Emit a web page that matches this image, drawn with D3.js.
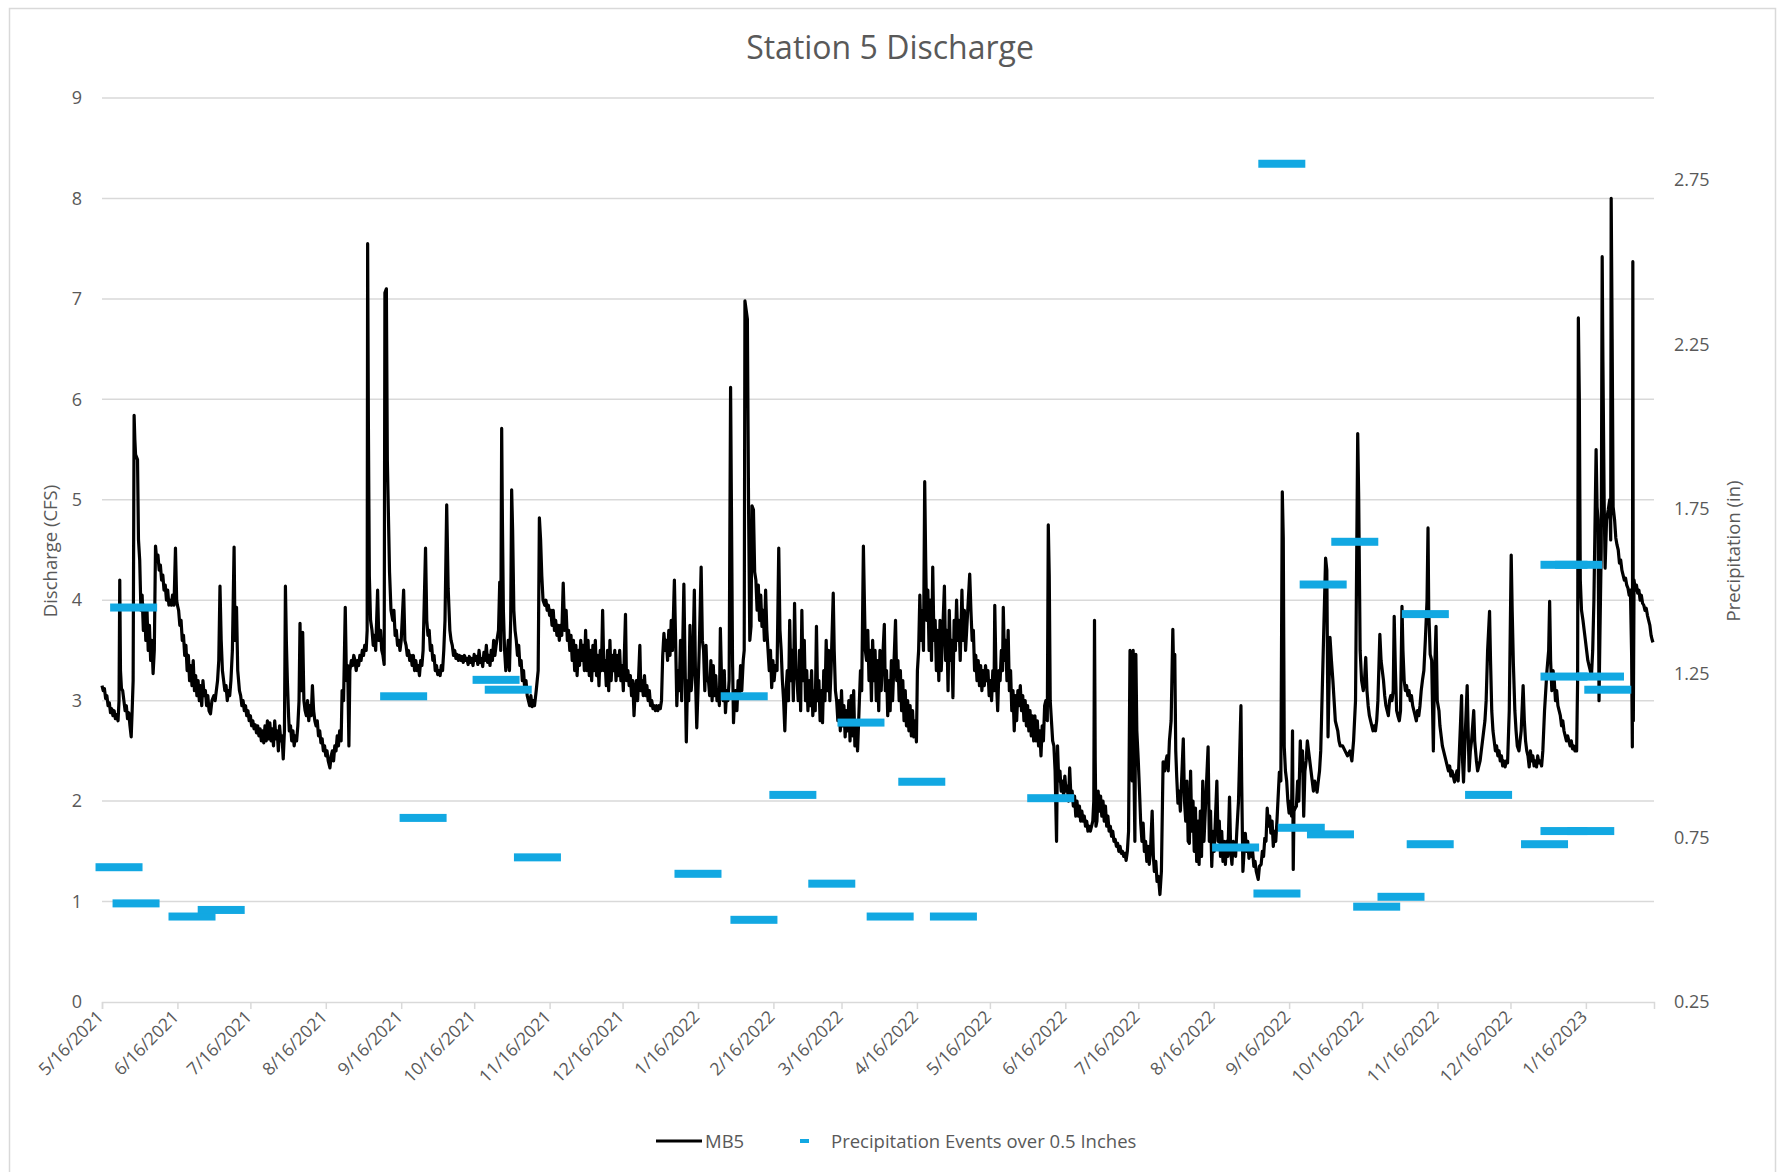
<!DOCTYPE html>
<html>
<head>
<meta charset="utf-8">
<script src="https://cdn.jsdelivr.net/npm/d3@7"></script>
<style>
  html, body { margin: 0; padding: 0; background: #fff; }
  text { font-family: 'Open Sans', sans-serif; fill: #595959; }
</style>
</head>
<body>
<div id="container"></div>
<script>
'use strict';

//Data
const startDay = '2021-05-16';
const endDay = 638; // last reading, days after startDay

//MB5 discharge: [days after 5/16/2021, cfs]
const mb5 = [
  [0,3.15],[0.5,3.1],[1,3.12],[1.5,3.02],[2,3.05],[2.5,2.95],[3,2.98],[3.5,2.88],[4,2.92],[4.5,2.85],[5,2.9],[5.5,2.82],[6,2.86],[6.6,2.8],
  [7,3.0],[7.3,4.2],[7.6,3.3],[8,3.12],[8.5,3.1],[9,3.0],[9.5,2.9],[10,2.95],[10.5,2.82],[11,2.88],[11.5,2.75],[12,2.64],[12.4,2.9],
  [12.8,3.2],[13.2,5.84],[13.5,5.6],[13.8,5.45],[14.6,5.4],[15,4.6],[15.5,4.4],[16,3.9],[16.5,4.05],[17,3.7],[17.5,3.95],[18,3.6],[18.5,3.9],[19,3.5],[19.5,3.75],[20,3.4],[20.5,3.6],[21,3.27],[21.5,3.5],
  [22,4.54],[22.5,4.4],[23,4.45],[23.5,4.3],[24,4.35],[24.5,4.2],[25,4.25],[25.5,4.1],[26,4.15],[26.5,4.0],[27,4.1],[27.5,3.95],[28,4.0],[28.5,3.95],[29,4.05],[29.6,3.95],[30.2,4.52],[30.7,4.0],[31,3.95],[31.5,3.9],[32,3.75],[32.5,3.8],[33,3.6],[33.5,3.65],[34,3.45],[34.5,3.55],[35,3.3],[35.5,3.45],[36,3.2],[36.5,3.35],[37,3.15],[37.5,3.4],[38,3.1],[38.5,3.25],[39,3.05],[39.5,3.2],[40,3.0],[40.5,3.15],[41,2.95],[41.5,3.2],[42,3.05],[42.5,3.1],[43,2.95],[43.5,3.05],[44,2.9],[44.6,2.87],[45.2,3.0],[46,3.05],[46.5,3.0],[47,3.1],[47.5,3.2],[48,3.4],[48.5,4.14],[49,3.6],[49.5,3.3],[50,3.2],[50.5,3.1],[51,3.15],[51.5,3.0],[52,3.1],[52.5,3.05],[53,3.2],[53.6,3.5],[54.3,4.53],[54.7,3.6],[55.3,3.93],[55.8,3.3],[56.5,3.1],[57,3.05],[57.5,2.95],[58,3.0],[58.5,2.9],[59,2.95],[59.5,2.85],[60,2.9],[60.5,2.8],[61,2.85],[61.5,2.75],[62,2.8],[62.5,2.72],[63,2.76],[63.5,2.68],[64,2.75],[64.5,2.65],[65,2.72],[65.5,2.6],[66,2.7],[66.5,2.58],[67,2.75],[67.5,2.6],[68,2.8],[68.5,2.62],[69,2.78],[69.5,2.6],[70,2.72],[70.5,2.55],[71,2.8],[71.5,2.62],[72,2.7],[72.5,2.5],[73,2.75],[73.5,2.6],[74,2.65],[74.5,2.42],[75,2.7],
  [75.4,4.14],[75.8,3.58],[76.2,3.2],[76.7,2.85],[77,2.7],[77.5,2.75],[78,2.6],[78.5,2.7],[79,2.55],[79.5,2.65],[80,2.6],[80.5,2.75],[81,3.0],[81.4,3.77],[81.8,3.1],[82.5,3.68],[83,3.0],[83.5,2.9],[84,2.85],[84.5,3.0],[85,2.8],[85.5,2.95],[86,2.85],[86.5,3.15],[87,2.9],[87.5,2.8],[88,2.75],[88.5,2.8],[89,2.65],[89.5,2.7],[90,2.58],[90.5,2.62],[91,2.5],[91.5,2.55],[92,2.45],[92.5,2.5],[93,2.4],[93.7,2.33],[94.2,2.45],[94.7,2.5],[95.2,2.4],[95.7,2.55],[96.2,2.5],[96.7,2.65],[97.2,2.55],[97.7,2.7],[98.3,2.6],[98.7,3.1],[99.3,3.0],[100,3.93],[100.5,3.2],[101,3.35],[101.5,2.55],[101.9,3.3],[102.5,3.4],[103,3.35],[103.5,3.45],[104,3.4],
  [104.5,3.3],[105,3.4],[105.5,3.35],[106,3.45],[106.5,3.4],[107,3.5],[107.5,3.45],[108,3.55],[108.6,3.5],
  [109,3.7],[109.2,7.55],[109.5,5.79],[109.9,4.24],[110.4,3.8],[111,3.7],[111.5,3.55],[112,3.65],[112.5,3.5],[113.3,4.1],[113.8,3.6],[114.5,3.7],[115,3.5],[115.5,3.45],[116,3.36],
  [116.3,7.06],[116.9,7.1],[117.3,5.39],[118.2,4.28],[118.8,3.9],[119.5,3.8],[120,3.9],[120.5,3.65],[121,3.7],[121.5,3.55],[122,3.6],[122.5,3.5],[123,3.6],[124,4.1],[124.5,3.6],[125,3.55],[125.5,3.45],[126,3.5],[126.5,3.4],[127,3.45],[127.5,3.35],[128,3.45],[128.5,3.3],[129,3.4],[129.5,3.3],[130,3.35],[130.5,3.25],[131,3.4],[131.5,3.35],[132,3.5],[133,4.52],[133.5,3.8],[134,3.65],[134.5,3.7],[135,3.5],[135.5,3.55],[136,3.4],[136.5,3.45],[137,3.3],[137.5,3.35],[138,3.26],[138.5,3.3],[139,3.25],[139.5,3.35],[140,3.3],[140.5,3.5],
  [141,3.8],[141.7,4.95],[142.3,4.12],[143,3.7],[143.5,3.6],[144,3.55],[144.5,3.45],[145,3.5],[145.5,3.42],[146,3.46],[146.5,3.4],[147,3.45],[147.5,3.4],[148,3.44],[148.5,3.38],[149,3.45],[149.5,3.4],[150,3.42],[150.5,3.36],[151,3.44],[151.5,3.38],[152,3.42],[152.5,3.35],[153,3.46],[153.5,3.4],[154,3.44],[154.5,3.36],[155,3.5],[155.5,3.38],[156,3.42],[156.5,3.34],[157,3.48],[157.5,3.4],[158,3.55],[158.5,3.38],[159,3.45],[159.5,3.35],[160,3.5],[160.5,3.4],[161,3.6],[161.5,3.45],[162,3.55],
  [163,3.7],[163.5,4.18],[163.9,3.5],[164.3,5.71],[164.6,4.8],[165,3.9],[165.5,3.5],[166,3.3],[166.6,3.45],[167,3.6],[167.5,3.3],
  [168,3.8],[168.4,5.1],[168.8,4.7],[169.3,3.9],[169.8,3.7],[170.3,3.6],[170.8,3.45],[171.3,3.55],[171.8,3.35],[172.3,3.4],[172.8,3.2],[173.3,3.3],[173.8,3.1],[174.3,3.2],[174.8,3.05],[175.3,3.0],[175.8,2.95],[176.3,3.05],[176.8,2.94],[177.3,3.0],[177.8,2.95],[178.5,3.1],
  [179.3,3.3],[179.8,4.82],[180.3,4.6],[180.8,4.24],[181.3,4.0],[182,3.95],[182.5,4.0],[183,3.9],[183.5,3.95],[184,3.85],[184.5,3.9],[185,3.75],[185.5,3.9],[186,3.7],[186.5,3.8],[187,3.65],[187.5,3.75],[188,3.6],[188.5,3.75],[189,3.65],[189.6,4.17],[190.2,3.7],[190.8,3.9],[191.3,3.6],[191.8,3.7],[192.3,3.5],[192.8,3.65],[193.3,3.4],[193.8,3.6],[194.3,3.3],[194.8,3.55],[195.3,3.25],[195.8,3.5],[196.3,3.35],[196.8,3.6],[197.3,3.4],[197.8,3.55],[198.3,3.3],[198.8,3.7],[199.3,3.3],[199.8,3.6],[200.3,3.25],[200.8,3.5],[201.3,3.2],[201.8,3.55],[202.3,3.3],[202.8,3.6],[203.3,3.25],[203.8,3.45],[204.3,3.15],[204.8,3.5],[205.3,3.3],[205.8,3.9],[206.3,3.3],[206.8,3.4],[207.3,3.15],[207.8,3.5],[208.3,3.1],[208.8,3.6],[209.3,3.2],[209.8,3.45],[210.3,3.3],[210.8,3.5],
  [211.3,3.2],[211.8,3.45],[212.3,3.25],[212.8,3.5],[213.3,3.2],[213.8,3.35],[214.3,3.1],[215.2,3.86],[215.6,3.2],[216.2,3.3],[216.7,3.15],[217.2,3.25],[217.7,3.05],[218.2,3.2],[218.7,2.85],[219.2,3.1],[219.7,3.2],[220.2,3.0],[221.1,3.55],[221.5,3.1],[222,3.2],[222.5,3.05],[223,3.25],[223.5,3.05],[224,3.15],[224.5,3.0],[225,3.1],[225.5,2.95],[226,3.0],[226.5,2.92],[227,2.95],[227.5,2.9],[228,2.95],[228.5,2.9],[229,2.95],[229.5,2.92],[230,3.0],[230.5,3.45],[231,3.67],[231.5,3.5],[232,3.6],[232.5,3.4],[233,3.7],[233.5,3.45],[234,3.8],[234.5,3.5],[235.3,4.2],[235.8,3.6],[236.3,2.95],[236.8,3.3],[237.3,3.1],[237.8,3.6],[238.3,3.0],[239.2,4.16],[239.6,3.5],[240.2,2.59],[240.7,3.2],[241.2,3.0],[241.7,3.75],[242.2,3.1],[242.8,3.3],[243.5,4.1],[244,3.2],[244.5,2.73],[245,3.1],[245.5,3.5],[246.3,4.33],[246.8,3.6],[247.3,3.5],[247.8,3.1],[248.3,3.55],[248.8,3.2],[249.3,3.2],[249.8,3.05],[250.3,3.4],[250.8,3.0],[251.3,3.35],[251.8,3.05],[252.3,3.25],[252.8,3.0],[253.3,3.1],[253.8,2.95],[254.2,3.72],[254.8,3.1],[255.3,3.0],[255.8,3.3],[256.3,2.88],[256.8,3.1],[257.3,3.0],[257.8,3.2],
  [258.4,6.12],[258.7,5.1],[259.2,3.4],[259.6,2.78],[260,3.0],[260.5,3.1],[261,2.9],[261.5,3.2],[262,3.05],[262.5,3.35],[263,3.1],[263.6,3.4],
  [264,3.5],[264.3,6.98],[265.3,6.8],[265.8,4.9],[266.3,3.6],[266.8,3.74],[267.2,4.94],[267.8,4.9],[268.3,4.28],[268.8,4.2],[269.3,3.9],[269.8,4.15],[270.3,3.8],[270.8,4.05],[271.3,3.74],[271.8,3.9],[272.3,3.6],[272.8,4.1],[273.3,3.7],[273.8,3.5],[274.3,3.3],[274.8,3.5],[275.3,3.13],[275.8,3.4],[276.3,3.2],[276.8,3.35],[277.5,3.3],[278.2,4.52],[278.7,3.7],[279.2,3.5],[279.7,3.2],[280.2,3.0],[280.7,2.7],[281.2,3.1],[281.7,3.3],[282.2,3.0],[282.7,3.8],[283.2,3.2],[283.7,3.5],[284.2,3.0],[284.7,3.97],[285.2,3.3],[285.7,3.2],[286.2,3.0],[286.7,3.5],[287.2,2.9],[287.7,3.9],[288.2,3.2],[288.7,3.6],[289.2,3.0],[289.7,3.3],[290.2,2.9],[290.7,3.2],[291.2,2.95],[291.7,3.3],[292.2,2.85],[292.7,3.1],[293.2,2.9],[293.7,3.74],[294.2,3.0],[294.7,3.2],[295.2,2.8],[295.7,3.1],[296.2,2.78],[296.7,3.3],[297.2,3.0],[297.7,3.6],[298.2,3.1],[298.7,3.5],[299.2,3.0],[299.7,3.3],[300.6,4.07],[301,3.5],[301.5,3.1],[302,3.0],[302.5,2.8],[303,3.0],[303.5,2.7],[304,3.1],[304.5,2.75],[305,2.95],[305.5,2.64],[306,2.9],[306.5,2.7],[307,3.0],[307.5,2.6],[308,3.05],[308.5,2.65],[309,3.1],[309.5,2.55],[310,2.8],[310.6,2.5],[311.2,2.9],[311.8,3.3],[312.3,3.1],[313,4.54],[313.4,4.0],[313.8,3.5],[314.3,3.4],[314.8,3.7],[315.3,3.2],[315.8,3.5],[316.3,3.0],[316.8,3.6],[317.3,3.2],[317.8,3.5],
  [318.3,3.0],[318.8,3.4],[319.3,2.9],[319.8,3.5],[320.3,3.1],[321.6,3.76],[322,3.1],[322.5,3.3],[323,2.85],[323.5,3.2],[324,2.9],[324.5,3.4],[325,3.0],[326.2,3.8],[326.7,3.2],[327.2,3.4],[327.7,3.0],[328.2,3.3],[328.7,2.9],[329.2,3.2],[329.7,2.8],[330.2,3.1],[330.7,2.75],[331.2,3.0],[331.7,2.7],[332.2,2.95],[332.7,2.65],[333.2,2.9],[333.7,2.64],[334.3,2.8],[334.8,2.59],[335.2,3.3],[335.7,3.5],[336.2,4.05],[336.7,3.6],[337.2,3.9],[337.7,3.5],[338.2,5.18],[338.6,4.4],[339,3.8],[339.5,4.1],[340,3.5],[340.5,4.0],[341,3.4],[341.5,4.33],[342,3.6],[342.5,3.8],[343,3.3],[343.5,3.7],[344,3.2],[344.5,3.8],[345,3.3],[346.3,4.14],[346.8,3.4],[347.3,3.7],[347.8,3.1],[348.3,3.9],[348.8,3.4],[349.3,3.6],[349.8,3.03],[350.3,3.8],[350.8,3.5],[351.3,4.0],[351.8,3.6],[352.3,3.8],[352.8,3.4],[353.5,4.1],[354,3.6],[354.5,3.9],[355,3.5],[356.7,4.26],[357.2,3.9],[357.7,3.6],[358.2,3.7],[358.7,3.3],[359.2,3.45],[359.7,3.2],[360.2,3.4],[360.7,3.15],[361.2,3.35],[361.7,3.1],[362.2,3.3],[362.7,3.15],[363.2,3.35],[363.7,3.2],[364.2,3.3],[364.7,3.05],[365.2,3.2],[365.7,3.0],[366.2,3.3],[366.7,3.1],[367,3.95],[367.5,3.3],[368.2,2.9],[368.7,3.3],[369.2,3.2],[369.7,3.5],[370.2,3.3],[370.5,3.93],[371,3.4],[371.5,3.6],[372,3.2],[372.5,3.7],[373,3.1],[373.5,3.3],[374,2.9],[374.5,3.1],[375,2.7],[375.5,3.05],[376,2.8],[376.5,3.1],[377,2.95],[377.5,3.15],[378,2.9],[378.5,3.05],[379,2.8],[379.5,3.0],[380,2.75],[380.5,2.95],[381,2.7],[381.5,2.9],[382,2.65],[382.5,2.85],[383,2.6],[383.5,2.85],[384,2.6],[384.5,2.8],[385,2.55],[385.5,2.7],[386,2.45],[386.5,2.75],[387,2.6],[387.5,2.95],[388,3.0],[388.6,2.8],[389,4.75],[389.4,4.24],[389.8,3.0],[390.3,2.8],[390.8,2.6],[391.3,2.55],[391.8,2.3],[392.4,1.6],[392.8,2.55],[393.3,2.2],[393.8,2.3],[394.3,2.1],[394.8,2.2],[395.3,2.05],[395.8,2.25],[396.3,2.1],[396.8,2.15],[397.3,2.0],[397.8,2.33],[398.3,2.05],[398.8,2.1],[399.3,1.95],[399.8,2.05],[400.3,1.85],[400.8,2.0],[401.3,1.85],[401.8,1.95],[402.3,1.8],[402.8,1.9],[403.3,1.8],[403.8,1.85],[404.3,1.75],[404.8,1.8],[405.3,1.7],[405.8,1.75],[406.3,1.7],[406.8,1.75],[407.3,1.8],[407.7,2.0],[408,3.8],[408.3,2.4],[408.6,1.75],[409,1.8],[409.5,2.1],[410,1.9],[410.5,2.05],[411,1.85],[411.5,2.0],[412,1.8],[412.5,1.95],[413,1.75],[413.5,1.85],[414,1.7],[414.5,1.75],[415,1.65],[415.5,1.7],[416,1.6],[416.5,1.62],[417,1.55],[417.5,1.58],[418,1.5],[418.5,1.55],[419,1.48],[419.5,1.5],[420,1.45],[420.5,1.48],[421,1.41],[421.5,1.5],[422,1.7],[422.6,3.5],[423,2.8],[423.5,2.2],[423.9,3.5],[424.3,2.17],[424.6,1.6],
  [425,3.46],[425.4,2.7],[426,2.4],[426.5,2.1],[427,1.78],[427.5,1.6],[428,1.78],[428.5,1.5],[429,1.6],[429.5,1.4],[430,1.55],[430.5,1.37],[431,1.5],[431.7,1.9],[432.2,1.45],[432.6,1.3],[433.2,1.4],[433.7,1.2],[434.3,1.25],[434.9,1.07],[435.5,1.3],[436.2,2.39],[436.8,2.3],[437.3,2.39],[437.8,2.45],[438.3,2.3],[438.8,2.6],[439.5,2.8],[440.2,3.71],[440.6,3.2],[441,3.46],[441.4,2.5],[441.8,2.24],[442.3,1.98],[442.8,2.1],[443.3,1.9],[444.5,2.62],[445,2.0],[445.5,1.8],[446,2.2],[446.5,1.6],[447,1.58],[447.5,2.3],[448,1.7],[448.5,2.0],[449,1.5],[449.5,1.93],[450,1.4],[450.5,1.8],[451,1.37],[451.5,1.9],[452,1.45],[452.5,2.2],[453,1.6],[454.7,2.54],[455.2,1.6],[455.7,1.9],[456.2,1.35],[456.7,1.7],[457.2,1.5],[458.3,2.2],[458.8,1.6],[459.3,1.8],[459.8,1.45],[460.3,1.7],[460.8,1.4],[461.3,1.6],[461.8,1.37],[462.3,1.6],[462.8,1.45],[463.5,2.04],[464,1.5],[464.5,1.37],[465,1.6],[466,1.45],[466.5,1.7],[467.2,2.0],[468.2,2.95],[468.5,2.2],[469,1.3],[469.5,1.5],[470,1.68],[470.5,1.5],[471,1.6],[471.5,1.43],[472,1.55],[472.5,1.45],[473,1.5],[473.5,1.35],[474,1.4],[474.5,1.3],[475.3,1.22],[475.8,1.35],[476.5,1.37],[477,1.5],[477.5,1.45],[478,1.63],[478.5,1.6],[479,1.93],[479.5,1.75],[480,1.85],[480.5,1.68],[481,1.8],[481.5,1.55],[482,1.7],[482.5,1.6],[483,1.8],[484,2.29],[484.6,2.2],[485.2,5.08],[485.6,4.62],[486,2.54],[486.5,2.3],[487,2.2],[487.5,2.0],[488,1.88],[488.5,2.0],[489,1.85],[489.4,2.7],[489.7,1.32],[490,1.9],[490.5,1.93],[491,1.95],[491.5,2.2],[492,2.0],[492.6,2.6],[493,2.3],[493.5,2.5],[494,1.85],[494.5,2.3],[495,2.4],[495.5,2.6],[496,2.5],[496.5,2.4],[497,2.3],[497.5,2.2],[498,2.1],[498.5,2.2],[499,2.15],[499.5,2.09],[500,2.2],[500.5,2.3],[501,2.5],[503,4.42],[503.5,4.3],[504,2.64],[504.8,3.63],[505.4,3.4],[506,3.2],[506.5,3.0],[507,2.8],[507.5,2.75],[508,2.7],[508.5,2.6],[509,2.55],[510,2.55],[511,2.5],[512,2.45],[513,2.5],[513.8,2.4],[514.5,2.6],[515.3,3.0],[516.2,5.66],[516.6,5.03],[517.2,3.5],[517.8,3.2],[518.5,3.1],[519,3.2],[519.5,3.43],[520,3.1],[520.5,2.95],[521,2.85],[521.5,2.8],[522,2.75],[522.5,2.7],[523,2.75],[523.5,2.7],[524,2.8],[524.5,3.0],[525.3,3.66],[525.8,3.4],[526.3,3.3],[526.8,3.2],[527.3,3.05],[527.8,2.95],[528.3,2.9],[528.8,2.85],[529.3,3.0],[529.8,3.05],[530.3,3.0],[530.8,3.1],[531.2,3.84],
  [531.7,3.3],[532.2,2.9],[532.7,2.85],[533.3,2.8],[533.8,2.9],[534.4,3.94],[534.8,3.5],[535.3,3.2],[535.8,3.1],[536.3,3.15],[536.8,3.05],[537.3,3.1],[537.8,3.0],[538.3,3.05],[538.8,2.95],[539.3,2.9],[539.8,2.85],[540.3,2.8],[540.8,2.9],[541.3,2.85],[541.8,2.95],[542.3,3.1],[542.8,3.2],[543.4,3.3],[544,3.6],[544.7,4.0],[545.1,4.72],[545.4,3.9],[546,3.46],[546.6,3.4],[547.3,2.5],[547.7,3.2],[548.4,3.74],[548.9,3.0],[549.6,2.9],[550,2.75],[550.5,2.65],[551,2.55],[551.5,2.5],[552,2.45],[552.5,2.4],[553,2.35],[553.5,2.3],[554,2.35],[554.5,2.25],[555,2.3],[556,2.19],[556.5,2.25],[557,2.3],[557.5,2.2],[558,2.5],[558.5,2.8],[558.9,3.05],[559.3,2.4],[559.7,2.19],[560.3,2.6],[561.2,3.15],[561.5,2.8],[562,2.3],[562.5,2.5],[563,2.6],[563.9,2.9],[564.3,2.6],[565,2.4],[565.5,2.3],[566,2.35],[566.5,2.4],[567,2.5],[567.5,2.6],[568,2.7],[568.5,2.8],[569,3.0],[569.6,3.5],[570.4,3.89],[570.8,3.4],[571.3,2.9],[571.8,2.7],[572.3,2.6],[572.8,2.5],[573.3,2.55],[573.8,2.45],[574.3,2.5],[574.8,2.4],[575.3,2.45],[575.8,2.35],[576.3,2.4],[576.8,2.34],[577.3,2.4],[577.8,2.38],[578.5,2.9],[579.3,4.45],[579.7,3.9],[580.2,3.36],[580.8,2.9],[581.3,2.7],[581.8,2.55],[582.5,2.5],[583.4,2.7],[584.2,3.15],[584.7,2.8],[585.2,2.6],[585.7,2.5],[586.2,2.45],[586.7,2.34],[587.2,2.5],[587.7,2.4],[588.2,2.45],[588.7,2.35],[589.2,2.4],[589.7,2.34],[590.2,2.45],[590.7,2.38],[591.2,2.4],[591.8,2.35],[592.3,2.5],[593,2.9],[594,3.3],[594.7,3.5],[595.1,3.99],[595.5,3.4],[596,3.1],[596.5,3.3],[597,3.2],[597.5,3.0],[598,3.1],[598.5,2.95],[599,2.9],[599.5,2.85],[600,2.75],[600.5,2.8],[601,2.7],[601.5,2.65],[602,2.6],[602.5,2.65],[603,2.6],[603.5,2.55],[604,2.6],[604.5,2.52],[605,2.55],[605.5,2.5],[606.2,2.5],[606.6,3.2],[606.9,6.81],[607.3,6.02],[607.7,4.2],[608.2,3.9],[608.8,3.8],[609.3,3.7],[609.8,3.6],[610.3,3.5],[610.8,3.4],[611.3,3.35],[611.8,3.3],[612.3,3.25],[612.8,3.5],[613.3,4.0],[613.7,4.67],[614.2,5.5],[614.6,4.93],[615,4.8],[615.4,3.0],[615.8,3.7],[616.3,4.5],[616.7,7.42],[617,6.38],[617.5,5.0],[617.9,4.32],[618.5,4.8],[619.2,4.9],[619.8,5.0],[620.2,4.6],[620.4,8.0],[620.8,6.6],[621.2,4.93],[621.8,4.8],[622.3,4.62],[622.8,4.55],[623.3,4.5],[623.8,4.37],[624.3,4.4],[624.8,4.3],[625.3,4.25],[625.8,4.2],[626.3,4.22],[626.8,4.15],[627.3,4.12],[627.8,4.05],[628.3,4.1],[628.8,3.46],[629.1,2.54],[629.3,7.37],[629.5,2.8],[629.8,4.2],[630.3,4.1],[630.8,4.15],[631.3,4.07],[631.8,4.1],[632.3,4.0],[632.8,4.05],[633.3,3.97],[633.8,3.95],[634.3,3.9],[634.8,3.92],[635.3,3.85],[635.8,3.8],[636.3,3.75],[636.8,3.65],[637.3,3.6],[637.6,3.58]
];

//Precipitation events over 0.5 inches
const precipDates = [
  '2021-05-23','2021-05-29','2021-05-30','2021-06-22','2021-07-04','2021-09-17','2021-09-25','2021-10-25','2021-10-30','2021-11-11',
  '2022-01-16','2022-02-04','2022-02-08','2022-02-24','2022-03-12','2022-03-24','2022-04-05','2022-04-18','2022-05-01','2022-06-10',
  '2022-08-25','2022-09-11','2022-09-13','2022-09-21','2022-09-30','2022-10-03','2022-10-13','2022-10-22','2022-11-01','2022-11-11',
  '2022-11-13','2022-12-07','2022-12-30','2023-01-07','2023-01-18','2023-01-07','2023-01-13','2023-01-07','2023-01-22','2023-01-25'
];
const precipInches = [
  0.66,1.45,0.55,0.51,0.53,1.18,0.81,1.23,1.20,0.69,
  0.64,1.18,0.50,0.88,0.61,1.10,0.51,0.92,0.51,0.87,
  0.72,0.58,2.80,0.78,1.52,0.76,1.65,0.54,0.57,1.43,
  0.73,0.88,0.73,0.77,0.77,1.58,1.58,1.24,1.24,1.20
];

//Axis ticks
const xTicks = [
  '2021-05-16','2021-06-16','2021-07-16','2021-08-16','2021-09-16','2021-10-16','2021-11-16','2021-12-16',
  '2022-01-16','2022-02-16','2022-03-16','2022-04-16','2022-05-16','2022-06-16','2022-07-16','2022-08-16',
  '2022-09-16','2022-10-16','2022-11-16','2022-12-16','2023-01-16'
];
const cfsTicks = [0, 1, 2, 3, 4, 5, 6, 7, 8, 9];
const inchTicks = [0.25, 0.75, 1.25, 1.75, 2.25, 2.75];

//Sizing
const VIZ = {
    WIDTH: 1780,
    HEIGHT: 1172,
    MARGIN: { LEFT: 102, TOP: 98, RIGHT: 126, BOTTOM: 170 }
};
const width = VIZ.WIDTH - VIZ.MARGIN.LEFT - VIZ.MARGIN.RIGHT;
const height = VIZ.HEIGHT - VIZ.MARGIN.TOP - VIZ.MARGIN.BOTTOM;
const GRID = '#d9d9d9';
const BLUE = '#12a8e2';

const parseDay = d3.utcParse('%Y-%m-%d');
const start = parseDay(startDay);
const dayToDate = day => new Date(start.getTime() + day * 864e5);

//Canvas
const svg = d3.select('#container')
    .append('svg')
    .attr('width', VIZ.WIDTH)
    .attr('height', VIZ.HEIGHT)
    .attr('viewBox', `0 0 ${VIZ.WIDTH} ${VIZ.HEIGHT}`);

svg.append('rect')
    .attr('x', 9.5).attr('y', 8.5)
    .attr('width', 1766).attr('height', 1180)
    .attr('fill', '#fff')
    .attr('stroke', GRID)
    .attr('stroke-width', 1.5);

const vis = svg.append('g')
    .attr('transform', `translate(${VIZ.MARGIN.LEFT} ${VIZ.MARGIN.TOP})`);

//Scales
const x = d3.scaleUtc()
    .domain([start, dayToDate(endDay)])
    .range([0, width]);
const y = d3.scaleLinear().domain([0, 9]).range([height, 0]);
const yRight = d3.scaleLinear().domain([0.25, 3.0]).range([height, 0]);

//Gridlines
vis.append('g')
    .selectAll('line')
    .data(cfsTicks.filter(t => t > 0))
    .join('line')
    .attr('x1', 0).attr('x2', width)
    .attr('y1', d => y(d)).attr('y2', d => y(d))
    .attr('stroke', GRID)
    .attr('stroke-width', 1.5);

//Left axis labels
vis.append('g')
    .attr('class', 'axis axisLeft')
    .call(d3.axisLeft(y).tickValues(cfsTicks).tickSize(0).tickPadding(20))
    .call(g => g.select('.domain').remove())
    .call(g => g.selectAll('text').style('font-size', '18px').attr('fill', '#595959'));

//Right axis labels
vis.append('g')
    .attr('class', 'axis axisRight')
    .attr('transform', `translate(${width} 0)`)
    .call(d3.axisRight(yRight).tickValues(inchTicks).tickFormat(d3.format('.2f')).tickSize(0).tickPadding(20))
    .call(g => g.select('.domain').remove())
    .call(g => g.selectAll('text').style('font-size', '18px').attr('fill', '#595959'));

//Bottom axis
const xAxis = vis.append('g')
    .attr('class', 'axis axisBottom')
    .attr('transform', `translate(0 ${height})`)
    .call(d3.axisBottom(x)
        .tickValues(xTicks.map(parseDay))
        .tickFormat(d3.utcFormat('%-m/%-d/%Y'))
        .tickSizeOuter(0)
        .tickSize(7));
xAxis.select('.domain').attr('stroke', GRID).attr('stroke-width', 1.5);
xAxis.selectAll('.tick line').attr('stroke', GRID).attr('stroke-width', 1.5);
xAxis.selectAll('.tick text')
    .style('font-size', '17.5px')
    .attr('fill', '#595959')
    .attr('text-anchor', 'end')
    .attr('dy', 0)
    .attr('y', 0)
    .attr('transform', 'translate(2 16) rotate(-45)');

//MB5 discharge line
const line = d3.line()
    .x(d => x(dayToDate(d[0])))
    .y(d => y(d[1]));
vis.append('path')
    .datum(mb5)
    .attr('d', line)
    .attr('fill', 'none')
    .attr('stroke', '#000')
    .attr('stroke-width', 3.2)
    .attr('stroke-linejoin', 'round');

//Precipitation dashes
const DASH = { W: 47, H: 8 };
vis.append('g')
    .selectAll('rect')
    .data(precipDates.map((d, i) => ({ date: parseDay(d), inches: precipInches[i] })))
    .join('rect')
    .attr('x', d => x(d.date) - DASH.W / 2)
    .attr('y', d => yRight(d.inches) - DASH.H / 2)
    .attr('width', DASH.W)
    .attr('height', DASH.H)
    .attr('fill', BLUE);

//Title
svg.append('text')
    .attr('x', 890).attr('y', 59)
    .attr('text-anchor', 'middle')
    .style('font-size', '32px')
    .text('Station 5 Discharge');

//Axis titles
svg.append('text')
    .attr('transform', 'translate(57 551) rotate(-90)')
    .attr('text-anchor', 'middle')
    .style('font-size', '18.5px')
    .text('Discharge (CFS)');
svg.append('text')
    .attr('transform', 'translate(1740 551) rotate(-90)')
    .attr('text-anchor', 'middle')
    .style('font-size', '18.5px')
    .text('Precipitation (in)');

//Legend
const legend = svg.append('g').attr('transform', 'translate(0 1141)');
legend.append('line')
    .attr('x1', 656).attr('x2', 702)
    .attr('stroke', '#000').attr('stroke-width', 3);
legend.append('text')
    .attr('x', 705).attr('y', 6.5)
    .style('font-size', '18.5px')
    .text('MB5');
legend.append('rect')
    .attr('x', 800).attr('y', -2)
    .attr('width', 9).attr('height', 4)
    .attr('fill', BLUE);
legend.append('text')
    .attr('x', 831).attr('y', 6.5)
    .style('font-size', '18.5px')
    .text('Precipitation Events over 0.5 Inches');
</script>
</body>
</html>
